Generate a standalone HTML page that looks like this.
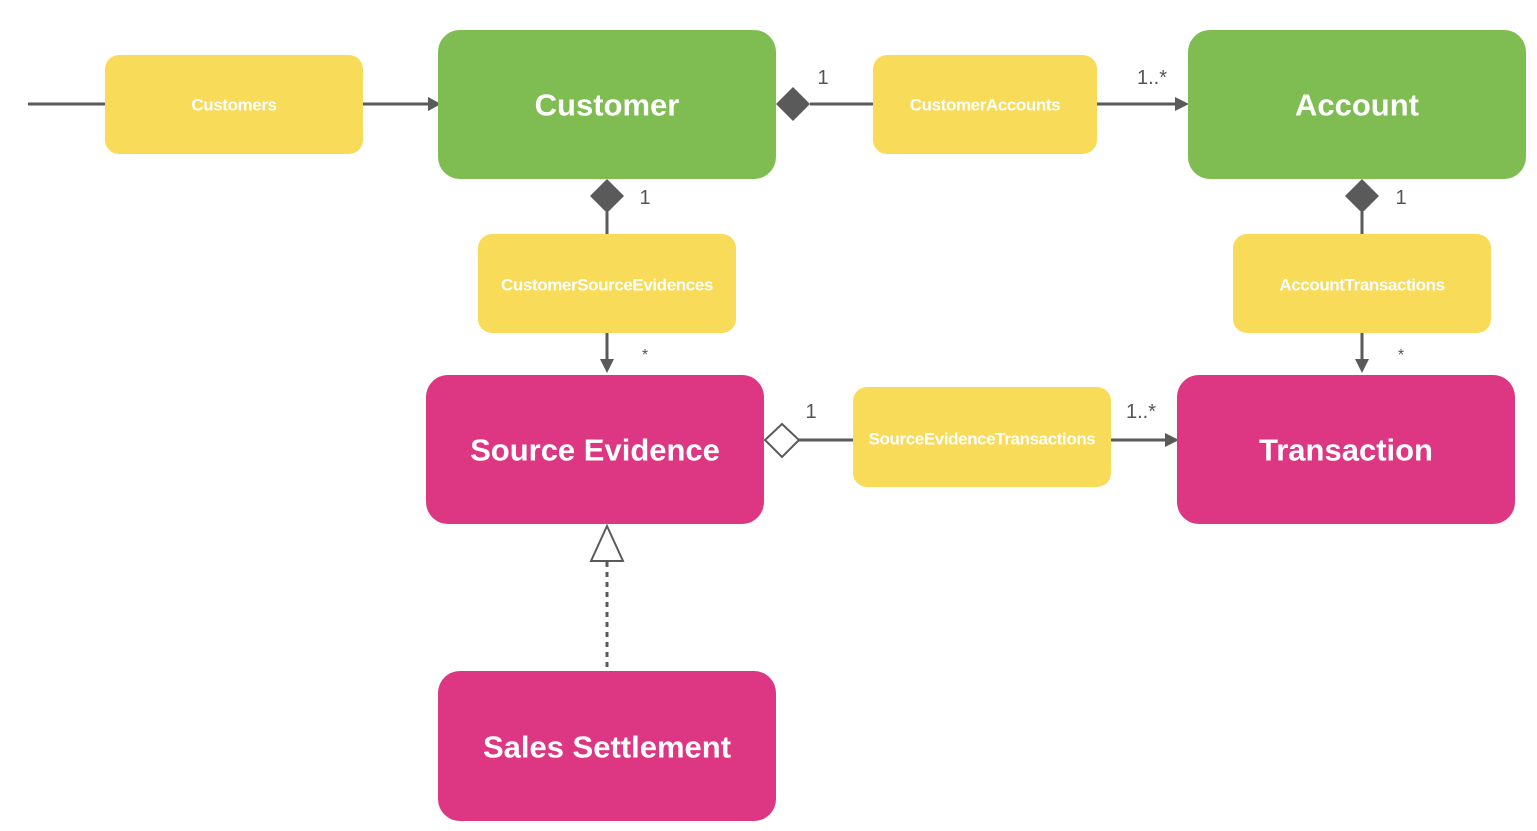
<!DOCTYPE html>
<html><head><meta charset="utf-8"><style>
html,body{margin:0;padding:0;background:#fff;}
svg{display:block;}
text{font-family:"Liberation Sans",Arial,sans-serif;}
.big{fill:#fff;font-size:31px;font-weight:bold;text-anchor:middle;dominant-baseline:central;}
.sm{fill:#fff;font-size:17px;font-weight:bold;text-anchor:middle;dominant-baseline:central;letter-spacing:-0.4px;}
.lab{fill:#555;font-size:20px;text-anchor:middle;}
.ln{stroke:#5a5a5a;stroke-width:3;fill:none;}
</style></head><body>
<svg width="1537" height="831" viewBox="0 0 1537 831">
<line class="ln" x1="28" y1="104" x2="106" y2="104"/>
<line class="ln" x1="362" y1="104" x2="430" y2="104"/>
<polygon points="428,97 441,104 428,111" fill="#5a5a5a"/>
<line class="ln" x1="810" y1="104" x2="874" y2="104"/>
<line class="ln" x1="1096" y1="104" x2="1178" y2="104"/>
<polygon points="1175,97 1189,104 1175,111" fill="#5a5a5a"/>
<polygon points="776,104 793,87 810,104 793,121" fill="#5a5a5a"/>
<polygon points="607,179 624,196 607,213 590,196" fill="#5a5a5a"/>
<line class="ln" x1="607" y1="212" x2="607" y2="235"/>
<line class="ln" x1="607" y1="333" x2="607" y2="362"/>
<polygon points="600,359 607,373 614,359" fill="#5a5a5a"/>
<polygon points="1362,179 1379,196 1362,213 1345,196" fill="#5a5a5a"/>
<line class="ln" x1="1362" y1="212" x2="1362" y2="235"/>
<line class="ln" x1="1362" y1="333" x2="1362" y2="362"/>
<polygon points="1355,359 1362,373 1369,359" fill="#5a5a5a"/>
<polygon points="765,440 782,424 799,440 782,457" fill="#fff" stroke="#5a5a5a" stroke-width="2"/>
<line class="ln" x1="799" y1="440" x2="854" y2="440"/>
<line class="ln" x1="1110" y1="440" x2="1168" y2="440"/>
<polygon points="1165,433 1179,440 1165,447" fill="#5a5a5a"/>
<line class="ln" x1="607" y1="562" x2="607" y2="670" stroke-dasharray="5,5"/>
<polygon points="607,526 623,561 591,561" fill="#fff" stroke="#5a5a5a" stroke-width="2"/>
<text class="lab" x="823" y="84">1</text>
<text class="lab" x="1152" y="84">1..*</text>
<text class="lab" x="645" y="204">1</text>
<text class="lab" x="1401" y="204">1</text>
<text class="lab" x="645" y="360" style="font-size:16px">*</text>
<text class="lab" x="1401" y="360" style="font-size:16px">*</text>
<text class="lab" x="811" y="418">1</text>
<text class="lab" x="1141" y="418">1..*</text>
<rect x="105" y="55" width="258" height="99" rx="14" fill="#f8db58"/>
<text class="sm" x="234" y="105">Customers</text>
<rect x="438" y="30" width="338" height="149" rx="22" fill="#7fbc51"/>
<text class="big" x="607" y="105">Customer</text>
<rect x="873" y="55" width="224" height="99" rx="14" fill="#f8db58"/>
<text class="sm" x="985" y="105">CustomerAccounts</text>
<rect x="1188" y="30" width="338" height="149" rx="22" fill="#7fbc51"/>
<text class="big" x="1357" y="105">Account</text>
<rect x="478" y="234" width="258" height="99" rx="14" fill="#f8db58"/>
<text class="sm" x="607" y="285">CustomerSourceEvidences</text>
<rect x="1233" y="234" width="258" height="99" rx="14" fill="#f8db58"/>
<text class="sm" x="1362" y="285">AccountTransactions</text>
<rect x="426" y="375" width="338" height="149" rx="22" fill="#dd3683"/>
<text class="big" x="595" y="450">Source Evidence</text>
<rect x="853" y="387" width="258" height="100" rx="14" fill="#f8db58"/>
<text class="sm" x="982" y="439">SourceEvidenceTransactions</text>
<rect x="1177" y="375" width="338" height="149" rx="22" fill="#dd3683"/>
<text class="big" x="1346" y="450">Transaction</text>
<rect x="438" y="671" width="338" height="150" rx="22" fill="#dd3683"/>
<text class="big" x="607" y="747">Sales Settlement</text>
</svg>
</body></html>
